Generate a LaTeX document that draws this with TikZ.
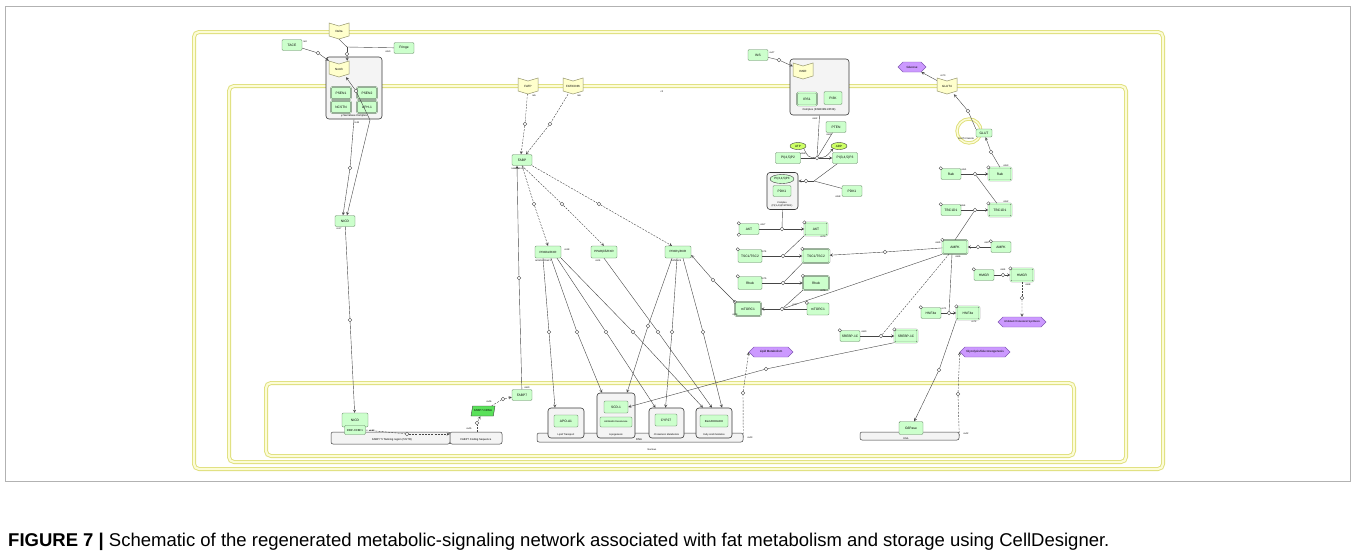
\documentclass[tikz,border=0pt]{standalone}
\usepackage{fontspec}
\setmainfont{Liberation Sans}
\usetikzlibrary{positioning}
\usetikzlibrary{calc}
\usetikzlibrary{arrows}
\usetikzlibrary{shapes.geometric}
\usetikzlibrary{shapes.symbols}

\definecolor{protfill}{RGB}{204,255,204}
\definecolor{protline}{RGB}{96,128,96}
\definecolor{rcptfill}{RGB}{255,255,204}
\definecolor{rcptline}{RGB}{150,150,110}
\definecolor{phenofill}{RGB}{204,153,255}
\definecolor{phenoline}{RGB}{130,90,180}
\definecolor{ionfill}{RGB}{204,255,102}
\definecolor{rnafill}{RGB}{90,225,90}
\definecolor{compline}{RGB}{222,222,120}
\definecolor{compfill}{RGB}{252,252,215}
\definecolor{cplxfill}{RGB}{244,244,244}
\definecolor{edgecol}{RGB}{70,70,70}

\newcommand{\rcpt}[3]{%
  \draw[rcptshape] ($(#2)+(-10,-8)$) -- ($(#2)+(0,-5)$) -- ($(#2)+(10,-8)$)
    -- ($(#2)+(10,5)$) -- ($(#2)+(0,8)$) -- ($(#2)+(-10,5)$) -- cycle;
  \node (#1) [rcpttxt] at (#2) {#3};
}

\begin{document}
\begin{tikzpicture}[x=1pt,y=-1pt,
  prot/.style={draw=protline,fill=protfill,rounded corners=1.2pt,line width=0.4pt,
    minimum width=20,minimum height=11,inner sep=0.5pt,font=\fontsize{3.3}{4}\selectfont},
  act/.style={prot,draw=gray!55!black,line width=0.3pt,double=protfill,double distance=0.7pt,
    minimum width=23,minimum height=13},
  resc/.style={circle,draw=gray!50!black,fill=white,line width=0.3pt,inner sep=0pt,
    minimum size=3.4pt,anchor=center},
  res/.style={label={[resc]north west:}},
  cplx/.style={draw=gray!45!black,fill=cplxfill,rounded corners=3pt,line width=0.6pt},
  gene/.style={draw=gray!45!black,fill=cplxfill,rounded corners=2pt,line width=0.5pt},
  pheno/.style={signal,signal to=east and west,draw=phenoline,fill=phenofill,line width=0.4pt,
    minimum height=10,inner sep=0.8pt,font=\fontsize{3}{3.5}\selectfont},
  ion/.style={ellipse,draw=gray!50!black,fill=ionfill,line width=0.4pt,minimum width=16,
    minimum height=7,inner sep=0pt,font=\fontsize{3}{3.5}\selectfont},
  rna/.style={trapezium,trapezium left angle=60,trapezium right angle=120,
    trapezium stretches body,draw=gray!50!black,fill=rnafill,line width=0.4pt,
    minimum width=24,minimum height=10,inner sep=0.5pt,font=\fontsize{2.8}{3.2}\selectfont},
  rcptshape/.style={draw=rcptline,fill=rcptfill,line width=0.5pt},
  rcpttxt/.style={minimum width=20,minimum height=16,inner sep=0pt,font=\fontsize{3}{3.5}\selectfont},
  proc/.style={circle,draw=edgecol,fill=white,line width=0.35pt,inner sep=0pt,minimum size=3.6pt},
  conn/.style={draw=edgecol,line width=0.4pt},
  arr/.style={conn,-stealth},
  dsh/.style={dash pattern=on 2pt off 1.2pt},
  rl/.style={inner sep=0.3pt,font=\fontsize{2.4}{2.8}\selectfont},
  tl/.style={inner sep=0.3pt,font=\fontsize{2.7}{3.2}\selectfont},
  comp/.style={draw=compline,line width=0.9pt,double=compfill,double distance=2.2pt,rounded corners=5pt},
  vesicle/.style={draw=compline,line width=0.9pt,double=compfill,double distance=1.5pt}
  ]
  \useasboundingbox (0,0) rectangle (1355,558);
  \draw[gray!60,line width=0.7pt] (5,6) rectangle (1350,481);
  \node (cap) [anchor=base west,inner sep=0,font=\fontsize{18.5}{21}\selectfont] at (8,546)
    {\textbf{FIGURE 7 |} Schematic of the regenerated metabolic-signaling network associated with fat metabolism and storage using CellDesigner.};

  % compartments
  \draw[comp] (194,32) rectangle (1163,469);
  \draw[comp] (229,86) rectangle (1126,462);
  \draw[comp] (266,383) rectangle (1074,456);
  \node (c2lab) [rl] at (662,92) {c2};
  \node (nuclab) [rl] at (652,450) {Nucleus};

  % notch signalling
  \rcpt{delta}{339,31}{Delta}
  \node (tace) [prot] at (292,45) {TACE};
  \node (fringe) [prot] at (404,48) {Fringe};
  \node (gsec) [cplx,minimum width=56,minimum height=62] at (354,88) {};
  \node (gseclab) [tl] at (354,116) {γ-Secretase Complex};
  \rcpt{notch}{339,69}{Notch}
  \node (psen1) [act,minimum width=20,minimum height=12] at (341,93) {PSEN1};
  \node (psen2) [act,minimum width=20,minimum height=12] at (367,93) {PSEN2};
  \node (ncstn) [act,minimum width=20,minimum height=12] at (341,107) {NCSTN};
  \node (aph1) [act,minimum width=20,minimum height=12] at (367,107) {APH-1};
  \node (nicd) [prot] at (345,221) {NICD};
  \coordinate (dj) at (347,47);
  \coordinate (gb) at (370,120);
  \node (pd) [proc] at (347,54) {};
  \node (ptc) [proc] at (318,53) {};
  \node (pg) [proc] at (356,91) {};
  \node (pn1) [proc] at (350,168) {};
  \node (pn2) [proc] at (350,320) {};
  \draw[conn] (delta.south) -- (dj);
  \draw[conn] (fringe) -- (dj);
  \draw[conn] (dj) -- (pd);
  \draw[arr] (pd) -- ([xshift=-2]notch.north east);
  \draw[conn] (tace) -- (ptc);
  \draw[arr] (ptc) -- (notch.north west);
  \draw[conn] (gsec.south) -- (pn1);
  \draw[arr] (pn1) -- ([xshift=-2]nicd.north);
  \draw[conn] (gb) -- (pg);
  \draw[arr] (pg) -- ([xshift=7]notch.south);
  \draw[arr] (gb) -- ([xshift=2]nicd.north);
  \node (lre3) [rl] at (305,42) {re3};
  \node (lre50) [rl] at (388,52) {re50};
  \node (lre11) [rl] at (357,123) {re11};
  \node (lre17) [rl] at (339,229) {re17};

  % FABP7 gene in the nucleus
  \node (fabp7r) [gene,minimum width=119,minimum height=12] at (390.5,438) {};
  \node (fabp7rlab) [tl] at (392,440) {FABP7 5' flanking region (5'UTR)};
  \node (fabp7c) [gene,minimum width=52,minimum height=12] at (476,438) {};
  \node (fabp7clab) [tl] at (476,440) {FABP7 Coding Sequence};
  \node (nicdn) [prot,minimum width=26,minimum height=14] at (355,420) {NICD};
  \node (rbpj) [prot,minimum width=21,minimum height=9,font=\fontsize{2.8}{3.2}\selectfont] at (355,430) {RBP-J/CBF1};
  \node (mrna) [rna] at (483,411) {FABP7 mRNA};
  \node (fabp7) [prot] at (522,395) {FABP7};
  \node (pf1) [proc] at (407,434) {};
  \node (pf2) [proc] at (477,423) {};
  \node (pf3) [proc] at (503,399) {};
  \node (pf4) [proc] at (519,278) {};
  \draw[conn] (nicd) -- (pn2);
  \draw[arr] (pn2) -- (nicdn);
  \draw[conn,dsh] (rbpj.east) -- (pf1);
  \draw[arr,dsh] (pf1) -- ($(fabp7c.west)+(0,-4)$);
  \draw[conn,dsh] ($(fabp7c.north)+(1,0)$) -- (pf2);
  \draw[arr,dsh] (pf2) -- (mrna);
  \draw[conn,dsh] (mrna) -- (pf3);
  \draw[arr,dsh] (pf3) -- (fabp7);
  \node (lre40) [rl] at (372,431) {re40};
  \node (lre45) [rl] at (469,429) {re45};
  \node (lre46) [rl] at (489,402) {re46};
  \node (lre60) [rl] at (527,388) {re60};

  % fatty acid uptake
  \rcpt{fatp}{528,86}{FATP}
  \rcpt{cd36}{573,86}{FAT/CD36}
  \node (fabp) [prot] at (522,160) {FABP};
  \node (pa1) [proc] at (525,124) {};
  \node (pa2) [proc] at (550,124) {};
  \draw[conn,dsh] (fatp) -- (pa1);
  \draw[arr,dsh] (pa1) -- ([xshift=-1]fabp.north);
  \draw[conn,dsh] (cd36) -- (pa2);
  \draw[arr,dsh] (pa2) -- ([xshift=4]fabp.north);
  \draw[conn] (fabp7) -- (pf4);
  \draw[arr] (pf4) -- ([xshift=-5]fabp.south);
  \node (lre5) [rl] at (534,96) {re5};
  \node (lre6) [rl] at (579,96) {re6};
  \node (lre8) [rl] at (518,169) {re8/re9/re10};

  % PPAR receptors
  \node (ppara) [prot,minimum width=26,minimum height=12,font=\fontsize{3}{3.5}\selectfont] at (548,252) {PPARα/RXR};
  \node (pparb) [prot,minimum width=26,minimum height=12,font=\fontsize{3}{3.5}\selectfont] at (604,252) {PPARβ/δ/RXR};
  \node (pparg) [prot,minimum width=26,minimum height=12,font=\fontsize{3}{3.5}\selectfont] at (678,252) {PPARγ/RXR};
  \node (pb1) [proc] at (534,204) {};
  \node (pb2) [proc] at (562,204) {};
  \node (pb3) [proc] at (599,204) {};
  \draw[conn,dsh] (fabp.south) -- (pb1);
  \draw[arr,dsh] (pb1) -- (ppara.north);
  \draw[conn,dsh] (fabp.south) -- (pb2);
  \draw[arr,dsh] (pb2) -- (pparb.north);
  \draw[conn,dsh] (fabp.south east) -- (pb3);
  \draw[arr,dsh] (pb3) -- ([xshift=-6]pparg.north);
  \node (lre18) [rl] at (567,250) {re18};
  \node (lre19) [rl] at (543,261) {re19/re20/re21};
  \node (lre24) [rl] at (598,261) {re24};
  \node (lre25) [rl] at (676,261) {re25/re26};

  % target genes
  \node (dna1) [gene,minimum width=206,minimum height=9] at (640,437.5) {};
  \node (dna1lab) [tl] at (639,440) {DNA};
  \node (lipt) [cplx,minimum width=36,minimum height=30] at (566,423) {};
  \node (apoa1) [prot,minimum width=24,minimum height=12] at (566,421) {APO-A1};
  \node (liptlab) [tl,font=\fontsize{2.5}{3}\selectfont] at (566,435) {Lipid Transport};
  \node (lipo) [cplx,minimum width=38,minimum height=45] at (616,415.5) {};
  \node (scd) [prot,minimum width=24,minimum height=12] at (616,407) {SCD-1};
  \node (desat) [prot,minimum width=32,minimum height=10,font=\fontsize{2.4}{3}\selectfont] at (616,422) {Δ4/Δ5/Δ6 Desaturase};
  \node (lipolab) [tl,font=\fontsize{2.5}{3}\selectfont] at (616,435) {Lipogenesis};
  \node (chol) [cplx,minimum width=35,minimum height=30] at (666.5,423) {};
  \node (cyp) [prot,minimum width=22,minimum height=12] at (666,420) {CYP27};
  \node (chollab) [tl,font=\fontsize{2.4}{3}\selectfont] at (666.5,435) {Cholesterol Metabolism};
  \node (fao) [cplx,minimum width=36,minimum height=30] at (714,423) {};
  \node (ehhadh) [prot,minimum width=28,minimum height=12,font=\fontsize{2.8}{3.2}\selectfont] at (714,421) {Bien/EHHADH};
  \node (faolab) [tl,font=\fontsize{2.4}{3}\selectfont] at (714,435) {Fatty Acid Oxidation};
  \node (g1) [proc] at (549,332) {};
  \node (g2) [proc] at (577,332) {};
  \node (g3) [proc] at (606,332) {};
  \node (g4) [proc] at (633,332) {};
  \node (g5) [proc] at (658,332) {};
  \node (g6) [proc] at (648,326) {};
  \node (g7) [proc] at (672,332) {};
  \node (g8) [proc] at (703,332) {};
  \draw[conn] ([xshift=-5]ppara.south) -- (g1);
  \draw[arr] (g1) -- ([xshift=-11]lipt.north);
  \draw[conn] ([xshift=3]ppara.south) -- (g2);
  \draw[arr] (g2) -- ([xshift=-14]lipo.north);
  \draw[conn] ([xshift=9]ppara.south) -- (g3);
  \draw[arr] (g3) -- ([xshift=-11]chol.north);
  \draw[conn] (ppara.south east) -- (g4);
  \draw[arr] (g4) -- ([xshift=-11]fao.north);
  \draw[conn] (pparb.south) -- (g5);
  \draw[arr] (g5) -- ([xshift=-2]fao.north);
  \draw[conn] ([xshift=-6]pparg.south) -- (g6);
  \draw[arr] (g6) -- ([xshift=11]lipo.north);
  \draw[conn] ([xshift=-1]pparg.south) -- (g7);
  \draw[arr] (g7) -- ([xshift=-1]chol.north);
  \draw[conn] ([xshift=5]pparg.south) -- (g8);
  \draw[arr] (g8) -- ([xshift=8]fao.north);
  \node (lipmet) [pheno,minimum width=44] at (771,352) {Lipid Metabolism};
  \node (pl1) [proc] at (743,393) {};
  \draw[conn,dsh] (dna1.east) -- (pl1);
  \draw[arr,dsh] (pl1) -- (lipmet.west);
  \node (lre43) [rl] at (750,438) {re43};

  % insulin signalling
  \node (ins) [prot] at (758,55) {INS};
  \node (insrc) [cplx,minimum width=59,minimum height=56] at (819.5,87) {};
  \node (insrclab) [tl] at (819,110) {Complex (INSR/IRS1/PI3K)};
  \rcpt{insr}{803,71}{INSR}
  \node (irs1) [act,minimum width=20] at (807,99) {IRS1};
  \node (pi3k) [prot,minimum width=18,minimum height=13] at (833,98) {PI3K};
  \node (pi1) [proc] at (779,60) {};
  \draw[conn] (ins) -- (pi1);
  \draw[arr] (pi1) -- (insr);
  \node (lre47) [rl] at (772,53) {re47};
  \node (lre62) [rl] at (815,119) {re62};
  \node (pten) [prot] at (836,127) {PTEN};
  \node (atp) [ion] at (798,146) {ATP};
  \node (adp) [ion] at (839,146) {ADP};
  \node (pip2) [prot,minimum width=25] at (788,158) {PI(4,5)P2};
  \node (pip3) [prot,minimum width=25] at (845,158) {PI(3,4,5)P3};
  \node (pp1) [proc] at (817,158) {};
  \draw[conn] (insrc.south) -- (pp1);
  \draw[conn] (pten) -- (pp1);
  \draw[conn] (pip2) -- (pp1);
  \draw[arr] (pp1) -- (pip3);
  \draw[conn] (atp.south east) .. controls (808,157) .. (pp1);
  \draw[arr] (pp1) .. controls (826,157) .. (adp.south west);
  \node (lre63) [rl] at (829,135) {re63};
  \node (lre56) [rl] at (803,154) {re56};
  \node (pipc) [cplx,minimum width=31,minimum height=37] at (782.5,191) {};
  \node (pip3c) [ion,fill=protfill,minimum width=24,minimum height=9] at (782,179) {PI(3,4,5)P3};
  \node (pdk1c) [prot,minimum width=18] at (782,191) {PDK1};
  \node (pipclab) [rl,align=center] at (782,204) {Complex\\(PI(3,4,5)P3/PDK1)};
  \node (pdk1) [prot] at (852,191) {PDK1};
  \coordinate (pj) at (814,181);
  \node (pp2) [proc] at (806,181) {};
  \draw[conn] (pip3) -- (pj);
  \draw[conn] (pdk1) -- (pj);
  \draw[conn] (pj) -- (pp2);
  \draw[arr] (pp2) -- ($(pipc.east)+(0,-10)$);
  \node (lre58) [rl] at (838,197) {re58};

  % AKT / mTOR
  \node (akt) [prot,res,label={[resc]south west:}] at (749,229) {AKT};
  \node (akta) [act,res] at (816,229) {AKT};
  \node (pk1) [proc] at (782,229) {};
  \draw[conn] (pipc.south) -- (pk1);
  \draw[conn] (akt) -- (pk1);
  \draw[arr] (pk1) -- (akta);
  \node (tsc) [prot,res,minimum width=24,minimum height=13] at (750,256) {TSC1/TSC2};
  \node (tsca) [act,res,minimum width=27,minimum height=14] at (816,256) {TSC1/TSC2};
  \node (pk2) [proc] at (783,256) {};
  \draw[conn] (akta.south west) -- (pk2);
  \draw[conn] (tsc) -- (pk2);
  \draw[arr] (pk2) -- (tsca);
  \node (rheb) [prot,res,minimum width=24,minimum height=13] at (750,283) {Rheb};
  \node (rheba) [act,res,minimum width=26,minimum height=14] at (816,283) {Rheb};
  \node (pk3) [proc] at (783,283) {};
  \draw[conn] (tsca.south west) -- (pk3);
  \draw[conn] (rheb) -- (pk3);
  \draw[arr] (pk3) -- (rheba);
  \node (mtora) [act,res,minimum width=26,minimum height=14] at (748,309) {mTORC1};
  \node (mtorb) [prot,res,minimum width=22,minimum height=12] at (818,309) {mTORC1};
  \node (pk4) [proc] at (782,309) {};
  \draw[conn] (rheba.south west) -- (pk4);
  \draw[conn] (mtorb) -- (pk4);
  \draw[arr] (pk4) -- (mtora);
  \node (pq1) [proc] at (713,280) {};
  \draw[conn] (mtora.north west) -- (pq1);
  \draw[arr] (pq1) -- ($(pparg.east)+(0,3)$);
  \node (lre57) [rl] at (763,225) {re57};
  \node (lre73) [rl] at (823,237) {re73};
  \node (lre74) [rl] at (764,252) {re74};
  \node (lre75) [rl] at (764,279) {re75};
  \node (lre76) [rl] at (823,291) {re76};
  \node (lre77) [rl] at (795,305) {re77};
  \node (lre78) [rl] at (735,315) {re78};

  % SREBP
  \node (srebp) [prot,res] at (850,336) {SREBP-1C};
  \node (srebpa) [act,res] at (906,336) {SREBP-1C};
  \node (psr) [proc] at (881,336) {};
  \draw[conn] (srebp) -- (psr);
  \draw[arr] (psr) -- (srebpa);
  \node (ps1) [proc] at (766,369) {};
  \draw[conn] (srebpa.south west) -- (ps1);
  \draw[arr] (ps1) -- (scd.east);
  \node (lre80) [rl] at (864,332) {re80};

  % AMPK
  \node (ampk) [act,res,minimum width=25,minimum height=14] at (955,247) {AMPK};
  \node (ampkb) [prot,res] at (1001,247) {AMPK};
  \node (pm1) [proc] at (978,247) {};
  \draw[conn] (ampkb) -- (pm1);
  \draw[arr] (pm1) -- (ampk);
  \node (pm2) [proc] at (885,252) {};
  \draw[conn] (ampk) -- (pm2);
  \draw[arr] (pm2) -- (tsca);
  \draw[conn] (ampk.south west) -- (pk4);
  \draw[conn,dsh] ([xshift=-6]ampk.south) -- (psr);
  \node (lre65) [rl] at (938,243) {re65};
  \node (lre66) [rl] at (958,257) {re66};
  \node (lre67) [rl] at (987,243) {re67};

  % GLUT4 translocation
  \node (tbc) [prot,res] at (951,210) {TBC1D1};
  \node (tbca) [act,res] at (1000,210) {TBC1D1};
  \node (pm3) [proc] at (975,210) {};
  \draw[conn] (tbc) -- (pm3);
  \draw[arr] (pm3) -- (tbca);
  \draw[conn] (ampk.north) -- (pm3);
  \node (rab) [prot,res] at (951,174) {Rab};
  \node (raba) [act,res] at (1000,174) {Rab};
  \node (pm4) [proc] at (975,174) {};
  \draw[conn] (rab) -- (pm4);
  \draw[arr] (pm4) -- (raba);
  \draw[conn] ([xshift=-3]tbca.north) -- (pm4);
  \draw[vesicle] (969,131) circle (12);
  \node (veslab) [rl] at (966,139) {GLUT4 Vesicle};
  \node (glut) [prot,minimum width=16,minimum height=8] at (984,133) {GLUT};
  \rcpt{glut4}{947,86}{GLUT4}
  \node (gluc) [pheno,minimum width=28] at (912,67) {Glucose};
  \node (pm5) [proc] at (991,152) {};
  \draw[conn] (raba.north) -- (pm5);
  \draw[arr] (pm5) -- (glut);
  \node (pm6) [proc] at (968,111) {};
  \draw[conn] (glut.north west) -- (pm6);
  \draw[arr] (pm6) -- (glut4);
  \draw[arr] (glut4) -- (gluc);
  \node (lre70) [rl] at (943,76) {re70};
  \node (lre51) [rl] at (964,170) {re51};
  \node (lre53) [rl] at (1006,166) {re53};
  \node (lre54) [rl] at (963,206) {re54};
  \node (lre52) [rl] at (1006,202) {re52};

  % HMGR and HNF4a
  \node (hmgr) [prot,res] at (984,275) {HMGR};
  \node (hmgra) [act,res] at (1022,275) {HMGR};
  \node (ph1) [proc] at (1003,275) {};
  \draw[conn] (hmgr) -- (ph1);
  \draw[arr] (ph1) -- (hmgra);
  \node (ics) [pheno,minimum width=48,font=\fontsize{2.6}{3}\selectfont] at (1022,322) {Inhibited Cholesterol Synthesis};
  \node (ph2) [proc] at (1022,298) {};
  \draw[conn,dsh] (hmgra) -- (ph2);
  \draw[arr,dsh] (ph2) -- (ics);
  \node (lre64) [rl] at (1003,270) {re64};
  \node (lre68) [rl] at (1028,285) {re68};
  \node (hnf) [prot,res] at (931,313) {HNF4α};
  \node (hnfa) [act,res] at (968,313) {HNF4α};
  \node (ph3) [proc] at (949,313) {};
  \draw[conn] (hnf) -- (ph3);
  \draw[arr] (ph3) -- (hnfa);
  \draw[conn] ([xshift=-3]ampk.south) -- (ph3);
  \node (lre71) [rl] at (944,309) {re71};
  \node (lre72) [rl] at (974,322) {re72};

  % G6Pase gene
  \node (dna3) [gene,minimum width=99,minimum height=8] at (909.5,436) {};
  \node (g6p) [prot,minimum width=24,minimum height=13] at (911,428) {G6Pase};
  \node (dna3lab) [rl] at (906,439) {DNA};
  \node (ph4) [proc] at (939,370) {};
  \draw[conn] (hnfa.south west) -- (ph4);
  \draw[arr] (ph4) -- (g6p);
  \node (glyco) [pheno,minimum width=50] at (985,352) {Glycolysis/Gluconeogenesis};
  \node (ph5) [proc] at (958,394) {};
  \draw[conn,dsh] (dna3.east) -- (ph5);
  \draw[arr,dsh] (ph5) -- (glyco.west);
  \node (lre42) [rl] at (966,434) {re42};
\end{tikzpicture}
\end{document}
